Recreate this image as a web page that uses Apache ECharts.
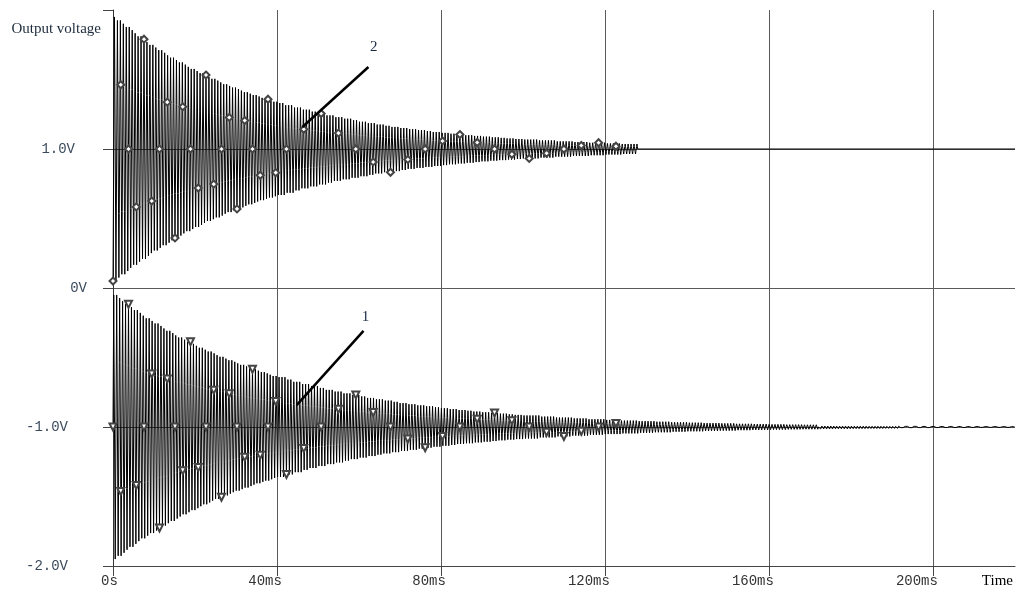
<!DOCTYPE html>
<html><head><meta charset="utf-8">
<script src="https://cdn.jsdelivr.net/npm/echarts@6/dist/echarts.min.js"></script>
<style>html,body{margin:0;padding:0;background:#fff}#c{width:1024px;height:595px}</style>
</head><body><div id="c"></div>
<script>
// ---- data ----
const xTicks = [0, 40, 80, 120, 160, 200];
const xTickLabels = ['0s', '40ms', '80ms', '120ms', '160ms', '200ms'];
const yTicks = [-2, -1, 0, 1];
const yTickLabels = ['-2.0V', '-1.0V', '0V', '1.0V'];
const xMax = 220;             // ms, right edge of plot
const center2 = 1.0;          // trace 2 rests at 1.0 V
const center1 = -1.0;         // trace 1 rests at -1.0 V
const carrierPeriodMs = 0.72; // oscillation period read from the stroke spacing
const end2Ms = 128;           // trace 2 oscillation stops here, then flat

const env2T = [0,1,2,3,4,5,6,7,8,9,10,11,12,13,14,15,16,17,18,19,20,21,22,23,24,25,26,27,28,29,30,31,32,33,34,35,36,37,38,39,40,
  42,44,46,48,50,52,54,56,58,60,62,64,66,68,70,72,74,76,78,80,82,84,86,88,90,92,94,96,98,100,
  104,108,112,116,120,124,128];
const env2A = [0.950,0.925,0.901,0.878,0.855,0.833,0.811,0.790,0.769,0.749,0.730,0.711,0.692,0.674,0.657,0.640,0.623,0.607,0.591,0.576,0.561,0.546,0.532,0.518,0.505,0.492,0.479,0.466,0.454,0.442,0.431,0.420,0.409,0.398,0.388,0.378,0.368,0.358,0.349,0.340,0.331,
  0.315,0.298,0.283,0.269,0.255,0.242,0.229,0.218,0.207,0.196,0.186,0.176,0.167,0.159,0.151,0.143,0.136,0.129,0.122,0.116,0.110,0.104,0.099,0.094,0.089,0.084,0.080,0.076,0.072,0.068,
  0.062,0.055,0.050,0.045,0.040,0.036,0.033];

const env1T = [0,1,2,3,4,5,6,7,8,9,10,11,12,13,14,15,16,17,18,19,20,21,22,23,24,25,26,27,28,29,30,31,32,33,34,35,36,37,38,39,40,
  42,44,46,48,50,52,54,56,58,60,62,64,66,68,70,72,74,76,78,80,82,84,86,88,90,92,94,96,98,100,
  104,108,112,116,120,124,128,132,136,140,144,148,152,156,160,164,168,172,176,180,184,188,192,196,200,204,208,212,216,220];
const env1A = [0.950,0.927,0.905,0.883,0.862,0.841,0.821,0.801,0.782,0.763,0.745,0.727,0.709,0.692,0.676,0.659,0.644,0.628,0.613,0.598,0.584,0.570,0.556,0.543,0.530,0.517,0.505,0.492,0.480,0.469,0.458,0.447,0.436,0.425,0.415,0.405,0.395,0.386,0.376,0.367,0.359,
  0.341,0.325,0.309,0.295,0.281,0.267,0.255,0.242,0.231,0.220,0.209,0.199,0.190,0.181,0.172,0.164,0.156,0.149,0.142,0.135,0.129,0.122,0.117,0.111,0.106,0.101,0.096,0.091,0.087,0.083,
  0.075,0.068,0.062,0.056,0.051,0.046,0.042,0.038,0.034,0.031,0.028,0.026,0.023,0.021,0.019,0.017,0.016,0.014,0.013,0.012,0.011,0.010,0.009,0.008,0.007,0.007,0.006,0.005,0.005,0.004];

// trace labels with leader lines (data coordinates)
const annotations = [
  { name: '2', from: [46.2, 1.158], to: [62.3, 1.59], label: [63.6, 1.73] },
  { name: '1', from: [44.8, -0.842], to: [61.1, -0.309], label: [61.6, -0.21] }
];

// ---- build traces (peak-to-peak strokes, subdivided so markers can sit anywhere on a stroke) ----
const strokeFractions = [-1, -0.5, 0, 0.5, 1, 0.5, 0, -0.5];
function lookup(T, A, t) { let i = 0; while (i + 1 < T.length && T[i + 1] <= t + 1e-9) i++; return A[i]; }
function build(T, A, center, phase, tEnd) {
  const pts = []; const n = strokeFractions.length; const q = carrierPeriodMs / n;
  for (let k = 0; k * q <= tEnd + 1e-9; k++) {
    const t = k * q;
    pts.push([+t.toFixed(4), center + strokeFractions[(k + phase) % n] * lookup(T, A, t)]);
  }
  return pts;
}
function markerSet(pts, tStop) {
  const s = new Set();
  pts.forEach((p, k) => {
    const t = p[0];
    if ((t < 40 && k % 21 === 0) || (t >= 40 && t < tStop && k % 47 === 0)) s.add(k);
  });
  return s;
}
const data2 = build(env2T, env2A, center2, 0, end2Ms);
data2.push([end2Ms, center2], [xMax, center2]);
const data1 = build(env1T, env1A, center1, 2, xMax);
const m2 = markerSet(data2, 125), m1 = markerSet(data1, 125);

const monoFont = 'Liberation Mono';
const gridColor = '#5a5a5a';

function annot(a) {
  return {
    markLine: {
      silent: true, animation: false, symbol: ['none', 'none'],
      lineStyle: { color: '#000', width: 2.5, type: 'solid' },
      label: { show: false },
      data: [[{ coord: a.from }, { coord: a.to }]]
    },
    markPoint: {
      silent: true, animation: false, symbol: 'circle', symbolSize: 1,
      itemStyle: { color: 'rgba(0,0,0,0)' },
      label: { show: true, position: 'inside', formatter: a.name, color: '#1a2a44',
        fontFamily: 'Liberation Serif', fontSize: 15 },
      data: [{ coord: a.label }]
    }
  };
}

const chart = echarts.init(document.getElementById('c'), null, { renderer: 'canvas' });
chart.setOption({
  animation: false,
  backgroundColor: '#fff',
  grid: { left: 113, right: 9, top: 10, bottom: 29, containLabel: false, outerBoundsMode: 'none' },
  xAxis: [{
    type: 'value', min: 0, max: xMax, interval: 40,
    name: 'Time', nameLocation: 'end', nameGap: 0, nameMoveOverlap: false,
    nameTextStyle: { align: 'right', verticalAlign: 'top', padding: [8, 2, 0, 0],
      fontFamily: 'Liberation Serif', fontSize: 15, color: '#000' },
    axisLine: { show: true, onZero: false, lineStyle: { color: '#444', width: 1 } },
    axisTick: { show: true, length: 10, customValues: xTicks, lineStyle: { color: '#444' } },
    axisLabel: { show: false },
    splitLine: { show: true, lineStyle: { color: gridColor, width: 1 } }
  }, {
    // label carrier: shifted so that each label ends a few px right of its tick
    type: 'value', min: -1.2, max: xMax - 1.2, position: 'bottom',
    axisLine: { show: false, onZero: false }, axisTick: { show: false }, splitLine: { show: false },
    axisLabel: { show: true, customValues: xTicks, align: 'right', margin: 8,
      formatter: v => xTickLabels[xTicks.indexOf(v)] || '',
      fontFamily: monoFont, fontSize: 14, color: '#333' }
  }],
  yAxis: {
    type: 'value', min: -2, max: 2, interval: 1,
    name: 'Output voltage', nameLocation: 'end', nameGap: -19, nameMoveOverlap: false,
    nameTextStyle: { align: 'right', verticalAlign: 'middle', padding: [0, 12, 0, 0],
      fontFamily: 'Liberation Serif', fontSize: 15, color: '#1c2b3c' },
    axisLine: { show: true, onZero: false, lineStyle: { color: '#333', width: 1 } },
    axisTick: { show: true, length: 10, customValues: [-2, -1, 0, 1, 2], lineStyle: { color: '#444' } },
    axisLabel: {
      show: true, customValues: yTicks, margin: 26, align: 'right',
      formatter: v => {
        const s = yTickLabels[yTicks.indexOf(v)];
        return v === 0 ? '{z|' + s + '}' : (v > 0 ? '{p|' + s + '}' : '{n|' + s + '}');
      },
      rich: {
        z: { fontFamily: monoFont, fontSize: 14, color: '#3a4a5c', padding: [0, 0, 0, 0] },
        p: { fontFamily: monoFont, fontSize: 14, color: '#3a4a5c', padding: [0, 12, 0, 0] },
        n: { fontFamily: monoFont, fontSize: 14, color: '#3a4a5c', padding: [0, 19, 0, 0] }
      }
    },
    splitLine: { show: true, lineStyle: { color: [gridColor, gridColor, gridColor, gridColor, 'rgba(0,0,0,0)'], width: 1 } }
  },
  series: [
    Object.assign({
      name: '2', type: 'line', xAxisIndex: 0, data: data2,
      showSymbol: true, showAllSymbol: true, symbol: 'emptyDiamond',
      symbolSize: (v, p) => m2.has(p.dataIndex) ? 7 : 0,
      itemStyle: { color: '#444', borderWidth: 1 },
      lineStyle: { color: '#000', width: 1 }, z: 3
    }, annot(annotations[0])),
    Object.assign({
      name: '1', type: 'line', xAxisIndex: 0, data: data1,
      showSymbol: true, showAllSymbol: true, symbol: 'emptyTriangle', symbolRotate: 180,
      symbolSize: (v, p) => m1.has(p.dataIndex) ? 7 : 0,
      itemStyle: { color: '#444', borderWidth: 1 },
      lineStyle: { color: '#000', width: 1 }, z: 3
    }, annot(annotations[1]))
  ]
});
</script></body></html>
